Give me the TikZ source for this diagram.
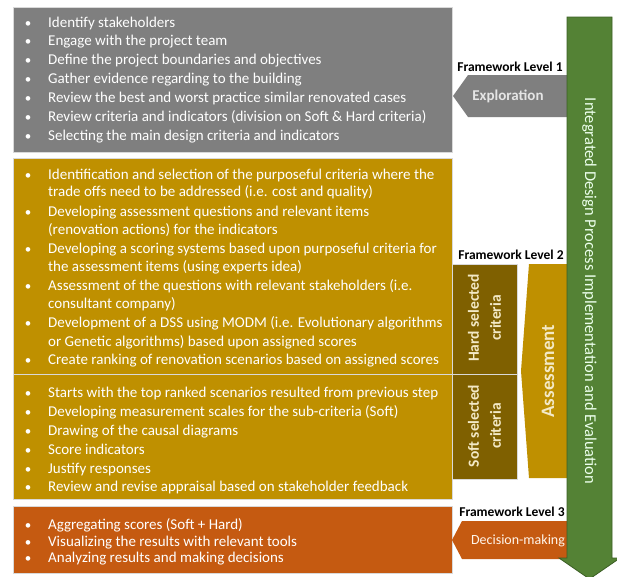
\documentclass[tikz,border=0pt]{standalone}
\usepackage{fontspec}
\setmainfont{Carlito}
\definecolor{cgray}{HTML}{7F7F7F}
\definecolor{cgold}{HTML}{BF9000}
\definecolor{cdark}{HTML}{7F6000}
\definecolor{corange}{HTML}{C55A11}
\definecolor{cgreen}{HTML}{548235}
\definecolor{cgreenline}{HTML}{3B5E24}
\definecolor{cpale}{HTML}{F3E9C6}
\newcommand\itm[3]{\node[bul] (#1b) at (28,#2) {\textbullet}; \node[txt] (#1) at (48,#2) {#3};}
\newcommand\cont[3]{\node[txt] (#1) at (48,#2) {#3};}
\begin{document}
\begin{tikzpicture}[x=1pt,y=-1pt,
  txt/.style={anchor=base west, inner sep=0, text=white, font=\fontsize{15}{17}\selectfont},
  bul/.style={anchor=base, inner sep=0, text=white, font=\fontsize{13}{15}\selectfont},
  box/.style={draw=white!85!black, line width=0.6pt},
  fw/.style={font=\bfseries\fontsize{13.5}{15}\selectfont, text=black, inner sep=0},
  vert/.style={font=\bfseries\fontsize{15.5}{22}\selectfont, text=cpale, align=center, inner sep=0, rotate=90}
]
\useasboundingbox (0,0) rectangle (617,576);
\fill[white] (0,0) rectangle (617,576);
% left boxes
\draw[box, fill=cgray] (13,7) rectangle (452,152);
\draw[box, fill=cgold] (13,158) rectangle (452,374);
\draw[box, fill=cgold] (13,374) rectangle (452,499);
\draw[box, fill=corange] (13,506) rectangle (452,573);
% criteria boxes
\draw[box, fill=cdark] (452,264) rectangle (517,374);
\draw[box, fill=cdark] (452,374) rectangle (517,479);
\fill[cgold] (529,264) -- (568,264) -- (568,478) -- (529,478) -- (521,371) -- cycle;
% level arrows
\fill[cgray] (453,96) -- (468,75) -- (570,75) -- (570,117) -- (468,117) -- cycle;
\fill[corange] (452,540) -- (462,521) -- (570,521) -- (570,559) -- (462,559) -- cycle;
% green arrow
\draw[fill=cgreen, draw=cgreenline, line width=0.8pt] (567,17) -- (612,17) -- (612,558) -- (620,558) -- (589.5,579) -- (559,558) -- (567,558) -- cycle;
% texts: level 1
\itm{a1}{27}{Identify stakeholders}
\itm{a2}{45.9}{Engage with the project team}
\itm{a3}{64.8}{Define the project boundaries and objectives}
\itm{a4}{83.7}{Gather evidence regarding to the building}
\itm{a5}{102.6}{Review the best and worst practice similar renovated cases}
\itm{a6}{121.5}{Review criteria and indicators (division on Soft \& Hard criteria)}
\itm{a7}{140.4}{Selecting the main design criteria and indicators}
% level 2 hard
\itm{b1}{179}{Identification and selection of the purposeful criteria where the}
\cont{b1c}{196}{trade offs need to be addressed (i.e. cost and quality)}
\itm{b2}{216}{Developing assessment questions and relevant items}
\cont{b2c}{234}{(renovation actions) for the indicators}
\itm{b3}{253}{Developing a scoring systems based upon purposeful criteria for}
\cont{b3c}{271}{the assessment items (using experts idea)}
\itm{b4}{290}{Assessment of the questions with relevant stakeholders (i.e.}
\cont{b4c}{308}{consultant company)}
\itm{b5}{327}{Development of a DSS using MODM (i.e. Evolutionary algorithms}
\cont{b5c}{346}{or Genetic algorithms) based upon assigned scores}
\itm{b6}{364}{Create ranking of renovation scenarios based on assigned scores}
% level 2 soft
\itm{c1}{397}{Starts with the top ranked scenarios resulted from previous step}
\itm{c2}{416}{Developing measurement scales for the sub-criteria (Soft)}
\itm{c3}{435}{Drawing of the causal diagrams}
\itm{c4}{454}{Score indicators}
\itm{c5}{473}{Justify responses}
\itm{c6}{491}{Review and revise appraisal based on stakeholder feedback}
% level 3
\itm{d1}{529}{Aggregating scores (Soft + Hard)}
\itm{d2}{546}{Visualizing the results with relevant tools}
\itm{d3}{562}{Analyzing results and making decisions}
% right side labels
\node[fw] (fw1) at (510,67) {Framework Level 1};
\node[fw] (fw2) at (511,255) {Framework Level 2};
\node[fw] (fw3) at (512,512) {Framework Level 3};
\node[font=\bfseries\fontsize{15}{17}\selectfont, text=white!90!black, inner sep=0] (expl) at (508,96) {Exploration};
\node[font=\fontsize{14}{16}\selectfont, text=white!92!orange, inner sep=0] (dec) at (518,541) {Decision-making};
\node[vert] (hard) at (484.5,318) {Hard selected\\criteria};
\node[vert] (soft) at (484.5,426) {Soft selected\\criteria};
\node[font=\bfseries\fontsize{19}{21}\selectfont, text=cpale, rotate=90, inner sep=0] (assess) at (548,371) {Assessment};
\node[font=\fontsize{16.5}{18}\selectfont, text=white!92!green, rotate=-90, inner sep=0] (idp) at (589.5,291) {Integrated Design Process Implementation and Evaluation};
\end{tikzpicture}
\end{document}
